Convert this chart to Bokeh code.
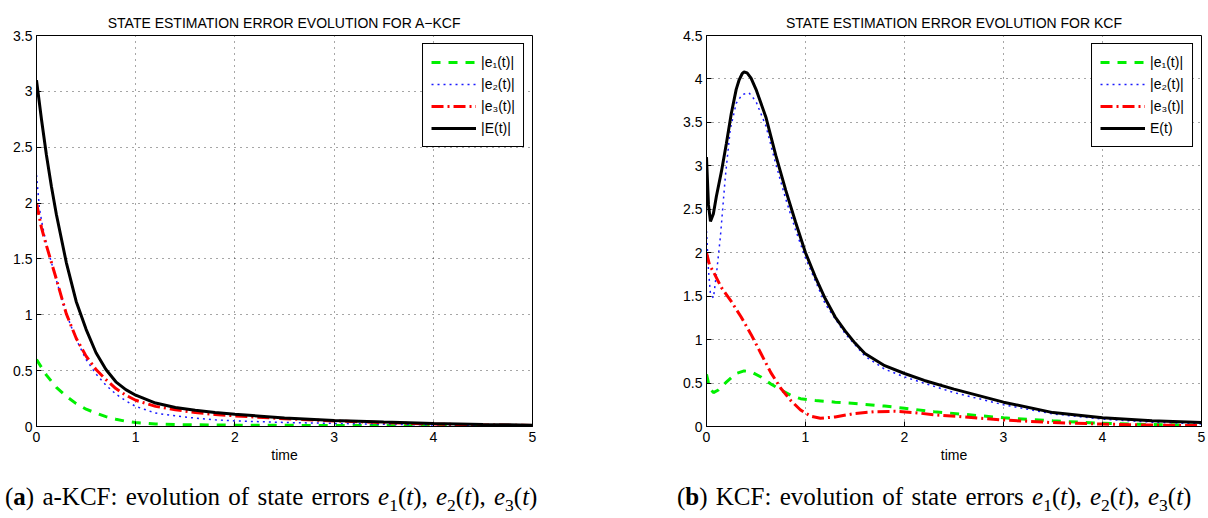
from bokeh.plotting import figure
from bokeh.models import Range1d, FixedTicker, Div
from bokeh.layouts import row, column
from bokeh.embed import file_html
from bokeh.resources import INLINE

# ---------------- data: (a) a-KCF ----------------
t_a_e1 = [0, 0.1, 0.2, 0.3, 0.4, 0.5, 0.6, 0.7, 0.8, 0.9, 1.0, 1.2, 1.5, 2.0, 3.0, 4.0, 5.0]
e1_a = [0.6, 0.46, 0.35, 0.27, 0.205, 0.155, 0.12, 0.088, 0.065, 0.047, 0.035, 0.022, 0.016, 0.012, 0.009, 0.007, 0.006]

t_a_e2 = [0, 0.03, 0.06, 0.1, 0.15, 0.2, 0.3, 0.4, 0.5, 0.6, 0.7, 0.8, 0.9, 1.0, 1.2, 1.4, 1.6, 1.8, 2.0, 2.5, 3.0, 3.5, 4.0, 4.5, 5.0]
e2_a = [2.25, 1.95, 1.8, 1.63, 1.47, 1.31, 1.01, 0.78, 0.6, 0.47, 0.37, 0.29, 0.23, 0.18, 0.12, 0.095, 0.075, 0.06, 0.05, 0.036, 0.028, 0.02, 0.014, 0.01, 0.007]

t_a_e3 = [0, 0.05, 0.1, 0.15, 0.2, 0.3, 0.4, 0.5, 0.6, 0.7, 0.8, 0.9, 1.0, 1.2, 1.4, 1.6, 1.8, 2.0, 2.5, 3.0, 3.5, 4.0, 4.5, 5.0]
e3_a = [2.0, 1.78, 1.62, 1.47, 1.32, 1.01, 0.79, 0.63, 0.51, 0.42, 0.34, 0.28, 0.235, 0.18, 0.15, 0.125, 0.108, 0.095, 0.07, 0.05, 0.035, 0.022, 0.014, 0.009]

t_a_E = [0, 0.05, 0.1, 0.15, 0.2, 0.3, 0.4, 0.5, 0.6, 0.7, 0.8, 0.9, 1.0, 1.2, 1.4, 1.6, 1.8, 2.0, 2.5, 3.0, 3.5, 4.0, 4.5, 5.0]
E_a = [3.1, 2.75, 2.43, 2.15, 1.9, 1.47, 1.12, 0.87, 0.66, 0.51, 0.40, 0.33, 0.28, 0.21, 0.17, 0.145, 0.125, 0.11, 0.077, 0.054, 0.04, 0.027, 0.018, 0.012]

# ---------------- data: (b) KCF ----------------
t_b_e1 = [0, 0.03, 0.07, 0.12, 0.2, 0.3, 0.38, 0.45, 0.55, 0.65, 0.75, 0.85, 0.95, 1.1, 1.3, 1.5, 1.8, 2.0, 2.3, 2.6, 3.0, 3.5, 4.0, 4.5, 5.0]
e1_b = [0.6, 0.45, 0.39, 0.42, 0.51, 0.61, 0.64, 0.63, 0.57, 0.49, 0.42, 0.36, 0.32, 0.3, 0.28, 0.265, 0.235, 0.21, 0.17, 0.14, 0.1, 0.065, 0.037, 0.022, 0.015]

t_b_e2 = [0, 0.02, 0.04, 0.07, 0.1, 0.14, 0.19, 0.24, 0.3, 0.36, 0.43, 0.5, 0.6, 0.7, 0.8, 0.9, 1.0, 1.2, 1.4, 1.6, 1.8, 2.0, 2.5, 3.0, 3.5, 4.0, 4.5, 5.0]
e2_b = [2.25, 1.8, 1.52, 1.48, 1.75, 2.18, 2.87, 3.42, 3.72, 3.82, 3.84, 3.74, 3.46, 3.02, 2.62, 2.26, 1.94, 1.41, 1.07, 0.81, 0.66, 0.57, 0.39, 0.25, 0.145, 0.085, 0.05, 0.03]

t_b_e3 = [0, 0.03, 0.07, 0.15, 0.25, 0.35, 0.45, 0.55, 0.65, 0.75, 0.85, 0.95, 1.05, 1.15, 1.3, 1.5, 1.7, 1.9, 2.1, 2.3, 2.6, 3.0, 3.5, 4.0, 4.5, 5.0]
e3_b = [2.0, 1.86, 1.78, 1.6, 1.44, 1.26, 1.06, 0.84, 0.62, 0.44, 0.3, 0.19, 0.12, 0.095, 0.11, 0.15, 0.17, 0.175, 0.16, 0.135, 0.11, 0.075, 0.045, 0.028, 0.016, 0.01]

t_b_E = [0, 0.02, 0.04, 0.07, 0.1, 0.15, 0.2, 0.25, 0.3, 0.33, 0.36, 0.38, 0.41, 0.45, 0.5, 0.6, 0.7, 0.8, 0.9, 1.0, 1.1, 1.2, 1.3, 1.4, 1.5, 1.6, 1.8, 2.0, 2.2, 2.5, 3.0, 3.5, 4.0, 4.5, 5.0]
E_b = [3.1, 2.55, 2.36, 2.45, 2.65, 2.93, 3.25, 3.6, 3.88, 3.99, 4.06, 4.08, 4.07, 4.01, 3.88, 3.56, 3.12, 2.72, 2.35, 2.0, 1.72, 1.47, 1.26, 1.1, 0.96, 0.84, 0.7, 0.61, 0.53, 0.43, 0.28, 0.16, 0.1, 0.065, 0.045]

# ---------------- ticks / texts ----------------
x_ticks = [0, 1, 2, 3, 4, 5]
x_tick_labels = ["0", "1", "2", "3", "4", "5"]
y_ticks_a = [0, 0.5, 1, 1.5, 2, 2.5, 3, 3.5]
y_tick_labels_a = ["0", "0.5", "1", "1.5", "2", "2.5", "3", "3.5"]
y_ticks_b = [0, 0.5, 1, 1.5, 2, 2.5, 3, 3.5, 4, 4.5]
y_tick_labels_b = ["0", "0.5", "1", "1.5", "2", "2.5", "3", "3.5", "4", "4.5"]

title_a = "STATE ESTIMATION ERROR EVOLUTION FOR A\u2212KCF"
title_b = "STATE ESTIMATION ERROR EVOLUTION FOR KCF"
legend_a = ["|e\u2081(t)|", "|e\u2082(t)|", "|e\u2083(t)|", "|E(t)|"]
legend_b = ["|e\u2081(t)|", "|e\u2082(t)|", "|e\u2083(t)|", "E(t)"]
x_label = "time"

SANS = "Liberation Sans"
FIG_H = 476


def make_fig(title, width, bl, br, ymax, yticks, ylabels, series, labels):
    p = figure(width=width, height=FIG_H, output_backend="svg", toolbar_location=None,
               x_range=Range1d(0, 5), y_range=Range1d(0, ymax),
               min_border_left=bl, min_border_right=br, min_border_top=35, min_border_bottom=50)
    p.title.text = title
    p.title.align = "center"
    p.title.text_font = SANS
    p.title.text_font_size = "14px"
    p.title.text_font_style = "normal"
    p.title.text_color = "black"
    p.title.standoff = 10

    p.xaxis.ticker = FixedTicker(ticks=x_ticks)
    p.xaxis.major_label_overrides = {k: v for k, v in zip(x_ticks, x_tick_labels)}
    p.yaxis.ticker = FixedTicker(ticks=yticks)
    p.yaxis.major_label_overrides = {k: v for k, v in zip(yticks, ylabels)}
    p.xaxis.axis_label = x_label
    for ax in (p.xaxis, p.yaxis):
        ax.major_label_text_font = SANS
        ax.major_label_text_font_size = "14px"
        ax.major_label_text_color = "black"
        ax.axis_label_text_font = SANS
        ax.axis_label_text_font_size = "14px"
        ax.axis_label_text_font_style = "normal"
        ax.axis_label_text_color = "black"
        ax.axis_line_color = "black"
        ax.major_tick_line_color = "black"
        ax.major_tick_in = 5
        ax.major_tick_out = 0
        ax.minor_tick_line_color = None
    p.xaxis.major_label_standoff = 5
    p.xaxis.axis_label_standoff = 2
    p.yaxis.major_label_standoff = 4

    for g in (p.xgrid, p.ygrid):
        g.grid_line_color = "#222222"
        g.grid_line_alpha = 0.8
        g.grid_line_dash = "1 5"
        g.grid_line_width = 1

    p.outline_line_color = "black"
    p.outline_line_width = 1
    p.outline_line_alpha = 1

    (t1, y1), (t2, y2), (t3, y3), (tE, yE) = series
    p.line(t1, y1, color="#00f000", line_width=3, line_dash="9 8", legend_label=labels[0])
    p.line(t2, y2, color="#1a1aff", line_width=1.5, line_dash="2 4", legend_label=labels[1])
    p.line(t3, y3, color="#ff0000", line_width=3, line_dash="12 4 2 4", legend_label=labels[2])
    p.line(tE, yE, color="black", line_width=3, legend_label=labels[3])

    lg = p.legend[0]
    lg.location = "top_right"
    lg.margin = 8
    lg.padding = 8
    lg.spacing = 2
    lg.glyph_width = 45
    lg.glyph_height = 20
    lg.label_height = 20
    lg.label_standoff = 5
    lg.label_text_font = SANS
    lg.label_text_font_size = "14px"
    lg.label_text_color = "black"
    lg.border_line_color = "black"
    lg.border_line_width = 1
    lg.border_line_alpha = 1
    lg.background_fill_color = "white"
    lg.background_fill_alpha = 1
    return p


fa = make_fig(title_a, 540, 36, 8, 3.5, y_ticks_a, y_tick_labels_a,
              [(t_a_e1, e1_a), (t_a_e2, e2_a), (t_a_e3, e3_a), (t_a_E, E_a)], legend_a)
fb = make_fig(title_b, 666, 166, 5, 4.5, y_ticks_b, y_tick_labels_b,
              [(t_b_e1, e1_b), (t_b_e2, e2_b), (t_b_e3, e3_b), (t_b_E, E_b)], legend_b)

cap_style = ("font-family:'Liberation Serif',serif;font-size:25px;line-height:20px;word-spacing:2px;"
             "white-space:nowrap;text-align:center;color:black;padding-top:6px;")
math = "<i>e</i><sub style='font-size:70%'>{n}</sub>(<i>t</i>)"
errs = ", ".join(math.format(n=n) for n in (1, 2, 3))
cap_a = Div(width=540, height=518 - FIG_H,
            text=f"<div style=\"{cap_style}\">(<b>a</b>) a-KCF: evolution of state errors {errs}</div>")
cap_b = Div(width=666, height=518 - FIG_H,
            text=f"<div style=\"{cap_style}padding-left:122px;\">(<b>b</b>) KCF: evolution of state errors {errs}</div>")

layout = column(row(fa, fb), row(cap_a, cap_b))

with open("out.html", "w") as f:
    f.write(file_html(layout, INLINE))
